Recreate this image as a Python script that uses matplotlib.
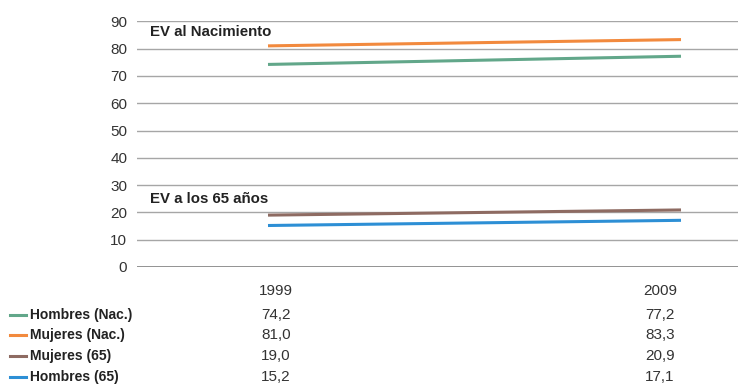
import matplotlib
matplotlib.use("Agg")
import matplotlib.pyplot as plt

years = ["1999", "2009"]
series_names = ["Hombres (Nac.)", "Mujeres (Nac.)", "Mujeres (65)", "Hombres (65)"]
hombres_nac = [74.2, 77.2]
mujeres_nac = [81.0, 83.3]
mujeres_65 = [19.0, 20.9]
hombres_65 = [15.2, 17.1]
colors = ["#62a78a", "#f28a3e", "#8e6b62", "#2d8fd5"]
yticks = [0, 10, 20, 30, 40, 50, 60, 70, 80, 90]

fam = ["Liberation Sans", "DejaVu Sans"]
plt.rcParams['font.family'] = fam

W, H = 738, 385
fig = plt.figure(figsize=(W / 100, H / 100), dpi=100)
ax = fig.add_axes([137 / W, 1 - 267 / H, 1 - 137 / W, (267 - 21.3) / H])

data = [hombres_nac, mujeres_nac, mujeres_65, hombres_65]
xs = list(range(len(years)))
for vals, c in zip(data, colors):
    ax.plot(xs, vals, color=c, lw=2.2, solid_capstyle='butt', zorder=3)

x0, x1 = 268, 681
scale = (x1 - x0)
ax.set_xlim((137 - x0) / scale, (738 - x0) / scale)
ax.set_ylim(0, 90)
ax.set_yticks(yticks)
ax.set_yticklabels([str(t) for t in yticks], fontsize=11, color="#333333")
ax.tick_params(axis='y', length=0, pad=7)
ax.set_xticks([])
for t in yticks:
    ax.axhline(t, color="#808080" if t == 0 else "#a6a6a6", lw=1.2 if t == 0 else 1.0, zorder=1)
for s in ax.spines.values():
    s.set_visible(False)

ax.text(150 / W, 1 - 32 / H, "EV al Nacimiento", transform=fig.transFigure,
        fontsize=10.8, fontweight='bold', color="#222222", va='center', ha='left')
ax.text(150 / W, 1 - 199 / H, "EV a los 65 años", transform=fig.transFigure,
        fontsize=10.8, fontweight='bold', color="#222222", va='center', ha='left')

# data table
col_x = [276, 660]
for cx, yr in zip(col_x, years):
    fig.text(cx / W, 1 - 291 / H, yr, ha='center', va='center', fontsize=11, color="#333333")
row_y = [315, 335, 356, 377]
for i, (name, vals, c) in enumerate(zip(series_names, data, colors)):
    y = 1 - row_y[i] / H
    fig.add_artist(plt.Line2D([10 / W, 26 / W], [y, y], color=c, lw=2.2, transform=fig.transFigure))
    fig.text(30 / W, y, name, ha='left', va='center', fontsize=10, fontweight='bold', color="#222222")
    for cx, v in zip(col_x, vals):
        fig.text(cx / W, y, f"{v:.1f}".replace('.', ','), ha='center', va='center', fontsize=11, color="#333333")

fig.savefig("out.png", dpi=100)
